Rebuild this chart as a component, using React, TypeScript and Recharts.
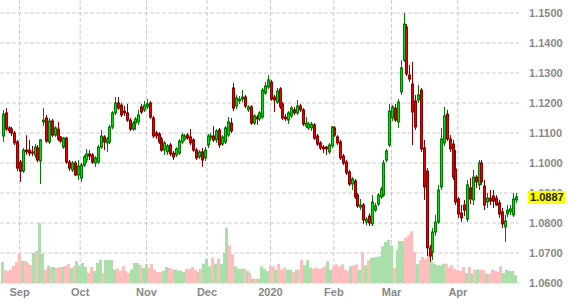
import { Bar, CartesianGrid, ComposedChart, XAxis, YAxis } from "recharts";

// daily candles, [open, high, low, close]
const augCandles = [
  [1.1090, 1.1177, 1.1070, 1.1163], [1.1167, 1.1183, 1.1107, 1.1113], [1.1117, 1.1123, 1.1100, 1.1107],
  [1.1113, 1.1120, 1.1090, 1.1100], [1.1100, 1.1107, 1.1060, 1.1067], [1.1070, 1.1077, 1.0973, 1.0983],
  [1.1003, 1.1010, 1.0937, 1.0973],
];
const sepCandles = [
  [1.0973, 1.1050, 1.0967, 1.1043], [1.1043, 1.1093, 1.1027, 1.1037], [1.1043, 1.1077, 1.1023, 1.1033],
  [1.1037, 1.1057, 1.1023, 1.1033], [1.1027, 1.1063, 1.1017, 1.1053], [1.1050, 1.1060, 1.1003, 1.1010],
  [1.1007, 1.1080, 1.0930, 1.1077], [1.1137, 1.1183, 1.1123, 1.1143], [1.1150, 1.1160, 1.1067, 1.1073],
  [1.1070, 1.1150, 1.1063, 1.1140], [1.1140, 1.1147, 1.1087, 1.1093], [1.1093, 1.1123, 1.1087, 1.1117],
  [1.1113, 1.1137, 1.1073, 1.1080], [1.1087, 1.1090, 1.1067, 1.1073], [1.1053, 1.1087, 1.1047, 1.1083],
  [1.1083, 1.1087, 1.0997, 1.1003], [1.1003, 1.1010, 1.0973, 1.0983], [1.0977, 1.1007, 1.0970, 1.1000],
  [1.1000, 1.1007, 1.0957, 1.0960], [1.0960, 1.1010, 1.0943, 1.0990],
];
const octCandles = [
  [1.0950, 1.1000, 1.0937, 1.0993], [1.0993, 1.1027, 1.0987, 1.1020], [1.1010, 1.1047, 1.1000, 1.1030],
  [1.1030, 1.1043, 1.1010, 1.1023], [1.1027, 1.1033, 1.0997, 1.1003], [1.1000, 1.1023, 1.0987, 1.1017],
  [1.1003, 1.1060, 1.0997, 1.1053], [1.1053, 1.1110, 1.1047, 1.1090], [1.1087, 1.1093, 1.1043, 1.1070],
  [1.1067, 1.1087, 1.1037, 1.1080], [1.1070, 1.1127, 1.1063, 1.1120], [1.1120, 1.1173, 1.1113, 1.1167],
  [1.1167, 1.1220, 1.1160, 1.1200], [1.1200, 1.1220, 1.1177, 1.1183], [1.1193, 1.1200, 1.1153, 1.1160],
  [1.1173, 1.1190, 1.1157, 1.1167], [1.1167, 1.1197, 1.1137, 1.1143], [1.1143, 1.1150, 1.1107, 1.1113],
  [1.1113, 1.1140, 1.1107, 1.1133], [1.1133, 1.1153, 1.1110, 1.1147], [1.1137, 1.1177, 1.1127, 1.1160],
  [1.1187, 1.1197, 1.1163, 1.1170], [1.1177, 1.1207, 1.1170, 1.1193],
];
const novCandles = [
  [1.1187, 1.1213, 1.1180, 1.1197], [1.1200, 1.1207, 1.1147, 1.1153], [1.1150, 1.1157, 1.1083, 1.1090],
  [1.1100, 1.1107, 1.1080, 1.1090], [1.1097, 1.1103, 1.1063, 1.1070], [1.1080, 1.1087, 1.1037, 1.1043],
  [1.1043, 1.1073, 1.1027, 1.1067], [1.1037, 1.1063, 1.1027, 1.1057], [1.1060, 1.1067, 1.1023, 1.1030],
  [1.1033, 1.1040, 1.1010, 1.1020], [1.1027, 1.1053, 1.1020, 1.1047], [1.1033, 1.1080, 1.1027, 1.1073],
  [1.1070, 1.1100, 1.1063, 1.1093], [1.1080, 1.1097, 1.1073, 1.1090], [1.1093, 1.1100, 1.1077, 1.1083],
  [1.1087, 1.1113, 1.1060, 1.1067], [1.1077, 1.1083, 1.1037, 1.1043], [1.1043, 1.1050, 1.1010, 1.1017],
  [1.1020, 1.1043, 1.1013, 1.1037], [1.1037, 1.1050, 1.0987, 1.1010], [1.1017, 1.1053, 1.1007, 1.1043],
];
const decCandles = [
  [1.1060, 1.1097, 1.1050, 1.1090], [1.1083, 1.1100, 1.1073, 1.1090], [1.1090, 1.1123, 1.1070, 1.1077],
  [1.1077, 1.1113, 1.1067, 1.1107], [1.1110, 1.1117, 1.1050, 1.1060], [1.1063, 1.1093, 1.1057, 1.1087],
  [1.1070, 1.1123, 1.1063, 1.1117], [1.1093, 1.1153, 1.1087, 1.1137], [1.1133, 1.1150, 1.1100, 1.1107],
  [1.1250, 1.1267, 1.1173, 1.1183], [1.1190, 1.1227, 1.1180, 1.1217], [1.1207, 1.1223, 1.1197, 1.1213],
  [1.1213, 1.1243, 1.1203, 1.1220], [1.1220, 1.1227, 1.1183, 1.1190], [1.1177, 1.1193, 1.1170, 1.1187],
  [1.1187, 1.1193, 1.1127, 1.1133], [1.1133, 1.1163, 1.1127, 1.1157], [1.1153, 1.1160, 1.1127, 1.1147],
  [1.1147, 1.1173, 1.1140, 1.1167], [1.1153, 1.1250, 1.1147, 1.1243], [1.1233, 1.1270, 1.1227, 1.1257],
  [1.1253, 1.1293, 1.1247, 1.1277], [1.1270, 1.1277, 1.1207, 1.1213],
];
const janCandles = [
  [1.1220, 1.1227, 1.1170, 1.1210], [1.1203, 1.1250, 1.1197, 1.1240], [1.1247, 1.1253, 1.1180, 1.1187],
  [1.1197, 1.1203, 1.1143, 1.1150], [1.1153, 1.1163, 1.1140, 1.1147], [1.1143, 1.1173, 1.1130, 1.1167],
  [1.1157, 1.1190, 1.1150, 1.1183], [1.1177, 1.1187, 1.1160, 1.1167], [1.1167, 1.1210, 1.1160, 1.1190],
  [1.1190, 1.1197, 1.1170, 1.1177], [1.1177, 1.1183, 1.1123, 1.1130], [1.1123, 1.1153, 1.1117, 1.1133],
  [1.1117, 1.1137, 1.1110, 1.1130], [1.1117, 1.1137, 1.1107, 1.1130], [1.1127, 1.1133, 1.1077, 1.1083],
  [1.1090, 1.1097, 1.1057, 1.1063], [1.1067, 1.1073, 1.1043, 1.1050], [1.1053, 1.1060, 1.1033, 1.1047],
  [1.1053, 1.1057, 1.1027, 1.1047], [1.1037, 1.1067, 1.1030, 1.1060], [1.1057, 1.1123, 1.1050, 1.1120],
];
const febCandles = [
  [1.1117, 1.1123, 1.1087, 1.1093], [1.1087, 1.1093, 1.1060, 1.1067], [1.1070, 1.1077, 1.1010, 1.1017],
  [1.1023, 1.1030, 1.0993, 1.1000], [1.1003, 1.1010, 1.0960, 1.0967], [1.0970, 1.0977, 1.0923, 1.0930],
  [1.0930, 1.0953, 1.0910, 1.0947], [1.0940, 1.0947, 1.0880, 1.0887], [1.0893, 1.0900, 1.0850, 1.0857],
  [1.0853, 1.0880, 1.0843, 1.0860], [1.0860, 1.0867, 1.0797, 1.0810], [1.0803, 1.0820, 1.0793, 1.0813],
  [1.0823, 1.0833, 1.0790, 1.0800], [1.0797, 1.0893, 1.0790, 1.0870], [1.0843, 1.0867, 1.0837, 1.0857],
  [1.0863, 1.0900, 1.0857, 1.0893], [1.0887, 1.0920, 1.0880, 1.0913], [1.0893, 1.1010, 1.0887, 1.1000],
  [1.1010, 1.1047, 1.1003, 1.1040], [1.1060, 1.1197, 1.1053, 1.1173],
];
const marCandles = [
  [1.1150, 1.1193, 1.1140, 1.1187], [1.1183, 1.1197, 1.1137, 1.1143], [1.1137, 1.1213, 1.1117, 1.1203],
  [1.1237, 1.1343, 1.1227, 1.1317], [1.1343, 1.1500, 1.1337, 1.1463], [1.1453, 1.1463, 1.1290, 1.1297],
  [1.1293, 1.1327, 1.1270, 1.1280], [1.1263, 1.1337, 1.1060, 1.1170], [1.1207, 1.1227, 1.1110, 1.1120],
  [1.1210, 1.1260, 1.1200, 1.1227], [1.1243, 1.1250, 1.1037, 1.1047], [1.1050, 1.1077, 1.0877, 1.0920],
  [1.0973, 1.0983, 1.0690, 1.0717], [1.0717, 1.0727, 1.0670, 1.0690], [1.0703, 1.0783, 1.0677, 1.0770],
  [1.0770, 1.0827, 1.0757, 1.0803], [1.0803, 1.0927, 1.0797, 1.0910], [1.0920, 1.1117, 1.0910, 1.1080],
  [1.1067, 1.1187, 1.1057, 1.1157], [1.1163, 1.1177, 1.1073, 1.1080], [1.1080, 1.1093, 1.1037, 1.1047],
  [1.1063, 1.1077, 1.0943, 1.0953],
];
const aprCandles = [
  [1.0980, 1.1043, 1.0860, 1.0870], [1.0880, 1.0887, 1.0817, 1.0830], [1.0833, 1.0860, 1.0803, 1.0817],
  [1.0860, 1.0877, 1.0823, 1.0843], [1.0813, 1.0943, 1.0803, 1.0927], [1.0917, 1.0950, 1.0863, 1.0880],
  [1.0877, 1.0977, 1.0860, 1.0953], [1.0953, 1.0960, 1.0917, 1.0937], [1.0927, 1.1010, 1.0910, 1.1000],
  [1.1000, 1.1010, 1.0927, 1.0937], [1.0923, 1.0943, 1.0843, 1.0860], [1.0870, 1.0900, 1.0850, 1.0883],
  [1.0883, 1.0910, 1.0860, 1.0873], [1.0890, 1.0910, 1.0850, 1.0873], [1.0883, 1.0893, 1.0857, 1.0860],
  [1.0867, 1.0877, 1.0817, 1.0830], [1.0837, 1.0850, 1.0783, 1.0797], [1.0787, 1.0827, 1.0737, 1.0807],
  [1.0830, 1.0860, 1.0820, 1.0843], [1.0837, 1.0860, 1.0827, 1.0847], [1.0827, 1.0900, 1.0820, 1.0880],
  [1.0877, 1.0900, 1.0867, 1.0887],
];

// volume, thousands of contracts
const augVolume = [21, 13, 12, 13.5, 17, 21, 29];
const sepVolume = [22, 22, 20, 18, 30, 32, 60, 29, 13.5, 17, 16, 16, 15, 16, 16, 17, 19, 15, 17, 22];
const octVolume = [17, 20, 16, 10, 16, 12, 20, 23, 10, 23, 23, 23, 13.5, 14.5, 12, 17, 12, 10, 13.5, 20, 20, 18, 15];
const novVolume = [19, 15, 19, 13.5, 11, 11, 12, 16, 15, 13.5, 13.5, 12, 12.7, 11, 14.3, 14.3, 16, 13.3, 11, 14.3, 19.3];
const decVolume = [24.3, 16.7, 25.3, 19.3, 24.3, 18.7, 30, 55.3, 37.7, 28.7, 16.7, 14.3, 14.3, 14.3, 12, 10, 4.3, 4.3, 4.3, 16.7, 14.3, 12, 16.7];
const janVolume = [16.7, 13.3, 19.3, 13.3, 15.3, 13.3, 13.3, 11, 13.3, 13.3, 23.3, 17.7, 22.7, 15.3, 14.3, 15.3, 14.3, 15.3, 16.7, 21.7, 13.3];
const febVolume = [16.7, 18.7, 16.7, 18.7, 13.3, 12, 16.7, 17.7, 18.7, 13.3, 31, 17.7, 22.7, 25.3, 25.3, 26, 26.7, 36.7, 41, 43.3];
const marVolume = [37.7, 15.3, 33.3, 42, 42, 45.3, 47.7, 51.7, 31, 18.7, 22.7, 26, 24.3, 29.3, 21, 19.3, 17.7, 17.7, 19.3, 19.3, 15.3, 17.7];
const aprVolume = [14.3, 13.3, 12, 16, 10, 16, 9.3, 13.3, 13.3, 13.3, 13.3, 9.3, 9.3, 13.3, 12, 11, 16.7, 10, 13.3, 12, 12, 7.7];

const monthTicks = [6, 27, 50, 71, 93, 115, 135, 158];
const monthLabels = ["Sep", "Oct", "Nov", "Dec", "2020", "Feb", "Mar", "Apr"];
const priceTicks = [1.06, 1.07, 1.08, 1.09, 1.1, 1.11, 1.12, 1.13, 1.14, 1.15];

const candles = [
  ...augCandles, ...sepCandles, ...octCandles, ...novCandles, ...decCandles,
  ...janCandles, ...febCandles, ...marCandles, ...aprCandles,
];
const volumes = [
  ...augVolume, ...sepVolume, ...octVolume, ...novVolume, ...decVolume,
  ...janVolume, ...febVolume, ...marVolume, ...aprVolume,
];

const data = candles.map(([open, high, low, close], idx) => ({
  idx,
  open,
  high,
  low,
  close,
  range: [low, high],
  volume: volumes[idx],
  up: close >= open,
}));

const lastClose = candles[candles.length - 1][3];

const FONT = "'Liberation Sans', Arial, sans-serif";

function Candle(props: any) {
  const { x, y, width, height, payload } = props;
  if (x == null || payload == null) return null;
  const { open, high, low, close, up } = payload;
  const cx = Math.round(x + width / 2) + 0.5;
  const top = Math.min(y, y + height);
  const h = Math.abs(height);
  const ratio = high === low ? 0 : h / (high - low);
  const bodyTop = top + (high - Math.max(open, close)) * ratio;
  const bodyBottom = top + (high - Math.min(open, close)) * ratio;
  const stroke = up ? "#007a00" : "#8a0000";
  const fill = up ? "#00e000" : "#e60000";
  return (
    <g>
      <line x1={cx} x2={cx} y1={top} y2={top + h} stroke={stroke} strokeWidth={1} />
      <rect
        x={cx - 1}
        y={bodyTop}
        width={2}
        height={Math.max(bodyBottom - bodyTop, 1)}
        fill={fill}
        stroke={stroke}
        strokeWidth={1}
      />
    </g>
  );
}

function VolumeBar(props: any) {
  const { x, y, width, height, payload } = props;
  if (x == null || payload == null) return null;
  const cx = Math.round(x + width / 2);
  return (
    <rect x={cx - 1} y={y} width={3} height={height} fill={payload.up ? "#aadfaa" : "#ffbdbd"} />
  );
}

function PriceTick({ x, y, payload }: any) {
  const v = payload.value;
  if (v === lastClose) {
    return (
      <g>
        <rect x={x - 1} y={y - 6} width={37} height={13} fill="#ffff00" />
        <text x={x + 1} y={y} dy={4} fill="#222" fontSize={11} fontWeight="bold" fontFamily={FONT}>
          {v.toFixed(4)}
        </text>
      </g>
    );
  }
  return (
    <text x={x} y={y} dy={4} fill="#888" fontSize={11} fontWeight="bold" fontFamily={FONT}>
      {v.toFixed(4)}
    </text>
  );
}

export default function App() {
  return (
    <div style={{ position: "absolute", left: 0, top: 0, width: 569, height: 304, background: "#fff" }}>
      <ComposedChart
        width={569}
        height={304}
        data={data}
        margin={{ top: 0, right: 0, bottom: 0, left: 0 }}
        barGap={-3}
      >
        <CartesianGrid
          stroke="#cccccc"
          strokeDasharray="4 2"
          horizontalValues={priceTicks}
          verticalValues={monthTicks}
        />
        <XAxis
          dataKey="idx"
          type="number"
          domain={[-0.8, candles.length + 0.2]}
          allowDataOverflow
          ticks={monthTicks}
          interval={0}
          tickFormatter={(v: number) => monthLabels[monthTicks.indexOf(v)] ?? ""}
          axisLine={false}
          tickLine={false}
          tickSize={5}
          tickMargin={0}
          height={21}
          tick={{ fill: "#888", fontSize: 11, fontWeight: "bold", fontFamily: FONT }}
        />
        <YAxis
          orientation="right"
          domain={[1.06, 1.15433]}
          allowDataOverflow
          ticks={[...priceTicks, lastClose]}
          interval={0}
          axisLine={false}
          tickLine={false}
          tickSize={6}
          tickMargin={4}
          width={50}
          tick={<PriceTick />}
        />
        <YAxis yAxisId="vol" hide domain={[0, 283]} />
        <Bar
          dataKey="volume"
          yAxisId="vol"
          barSize={3}
          shape={<VolumeBar />}
          isAnimationActive={false}
        />
        <Bar dataKey="range" barSize={3} shape={<Candle />} isAnimationActive={false} />
      </ComposedChart>
    </div>
  );
}
